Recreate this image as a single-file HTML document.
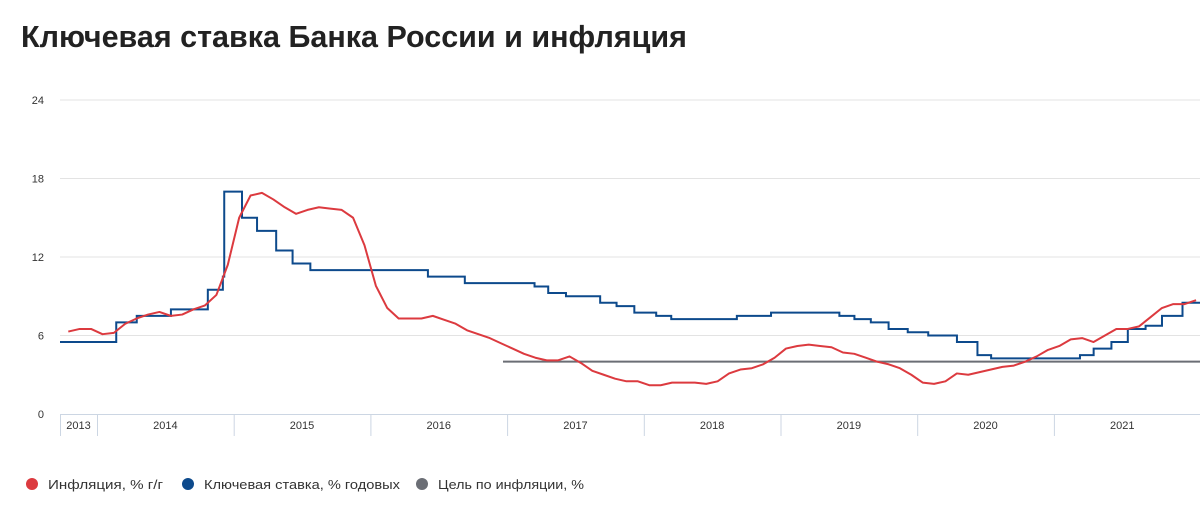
<!DOCTYPE html>
<html><head><meta charset="utf-8"><style>
body{margin:0;background:#fff;font-family:"Liberation Sans","Noto Sans CJK SC",sans-serif;}
svg{position:absolute;left:0;top:0}
</style></head><body>
<svg id="c" width="1200" height="508">
<text x="21" y="47" font-size="30.5" font-weight="bold" fill="#222">Ключевая ставка Банка России и инфляция</text>
</svg>
<script>
const yTicks=[0,6,12,18,24];
const years=["2013","2014","2015","2016","2017","2018","2019","2020","2021"];
const rateDates=[2013.70,2014.17,2014.32,2014.57,2014.84,2014.95,2014.96,2015.09,2015.20,2015.34,2015.46,2015.59,2016.45,2016.72,2017.23,2017.33,2017.46,2017.71,2017.83,2017.96,2018.12,2018.23,2018.71,2018.96,2019.46,2019.57,2019.69,2019.82,2019.96,2020.11,2020.32,2020.47,2020.57,2021.22,2021.32,2021.45,2021.57,2021.70,2021.82,2021.97];
const rateValues=[5.5,7,7.5,8,9.5,10.5,17,15,14,12.5,11.5,11,10.5,10,9.75,9.25,9,8.5,8.25,7.75,7.5,7.25,7.5,7.75,7.5,7.25,7,6.5,6.25,6,5.5,4.5,4.25,4.5,5,5.5,6.5,6.75,7.5,8.5];
const inflStart=2013.79;
const inflValues=[6.3,6.5,6.5,6.1,6.2,6.9,7.3,7.6,7.8,7.5,7.6,8.0,8.3,9.1,11.4,15.0,16.7,16.9,16.4,15.8,15.3,15.6,15.8,15.7,15.6,15.0,12.9,9.8,8.1,7.3,7.3,7.3,7.5,7.2,6.9,6.4,6.1,5.8,5.4,5.0,4.6,4.3,4.1,4.1,4.4,3.9,3.3,3.0,2.7,2.5,2.5,2.2,2.2,2.4,2.4,2.4,2.3,2.5,3.1,3.4,3.5,3.8,4.3,5.0,5.2,5.3,5.2,5.1,4.7,4.6,4.3,4.0,3.8,3.5,3.0,2.4,2.3,2.5,3.1,3.0,3.2,3.4,3.6,3.7,4.0,4.4,4.9,5.2,5.7,5.8,5.5,6.0,6.5,6.5,6.7,7.4,8.1,8.4,8.4,8.7];
const targetStart=2016.97, targetValue=4;
const X0=60,X1=1200,Y0=414,Y1=100;
const x=t=>97+(t-2014)*136.7;
const y=v=>Y0-(v/24)*(Y0-Y1);
const s=document.getElementById('c'),NS='http://www.w3.org/2000/svg';
function mk(tag,a,p){const e=document.createElementNS(NS,tag);for(const k in a)e.setAttribute(k,a[k]);(p||s).appendChild(e);return e;}
yTicks.forEach(v=>{
 if(v>0){const g=mk('line',{x1:X0,x2:X1,y1:y(v),y2:y(v),stroke:'#e3e3e3','stroke-width':1});
 
 }
 const t=mk('text',{x:44,y:y(v)+4,'text-anchor':'end','font-size':11,fill:'#333'});t.textContent=v;
 
 
});
const ax=mk('line',{x1:X0,x2:X1,y1:Y0+0.5,y2:Y0+0.5,stroke:'#ccd6e3'});


years.forEach((yr,i)=>{
 const a=Math.max(X0,x(+yr)),b=Math.min(X1,x(+yr+1));
 const sep=mk('line',{x1:a+0.5,x2:a+0.5,y1:Y0,y2:436,stroke:'#ccd6e3'});
 
 
 const t=mk('text',{x:(a+b)/2,y:429,'text-anchor':'middle','font-size':11,fill:'#333'});t.textContent=yr;
 
 
});
const tl=mk('line',{x1:x(targetStart),x2:X1,y1:y(targetValue),y2:y(targetValue),stroke:'#6b6e75','stroke-width':2});


const xr=t=>x(t)-4;
let d='';rateDates.forEach((t,i)=>{const xx=Math.max(X0,xr(t));d+=(i?'H'+xx+'V':'M'+xx+' ')+y(rateValues[i]);});
d+='H'+X1;
const rp=mk('path',{d:d,fill:'none',stroke:'#0d4a8c','stroke-width':2});


let d2='';inflValues.forEach((v,i)=>{const xx=Math.min(X1,x(inflStart+i/12));d2+=(i?'L':'M')+xx+' '+y(v);});
const ip=mk('path',{d:d2,fill:'none',stroke:'#dc3a3f','stroke-width':2,'stroke-linejoin':'round'});


const leg=[['#dc3a3f','Инфляция, % г/г',32,115,'legend-inflation'],['#0d4a8c','Ключевая ставка, % годовых',188,196,'legend-key-rate'],['#6b6e75','Цель по инфляции, %',422,146,'legend-target']];
leg.forEach(l=>{
 const g=mk('g',{});
 
 
 mk('circle',{cx:l[2],cy:484,r:6,fill:l[0]},g);
 const t=mk('text',{x:l[2]+16,y:489,'font-size':13,fill:'#333',textLength:l[3],lengthAdjust:'spacingAndGlyphs'},g);t.textContent=l[1];
});
</script>
</body></html>
